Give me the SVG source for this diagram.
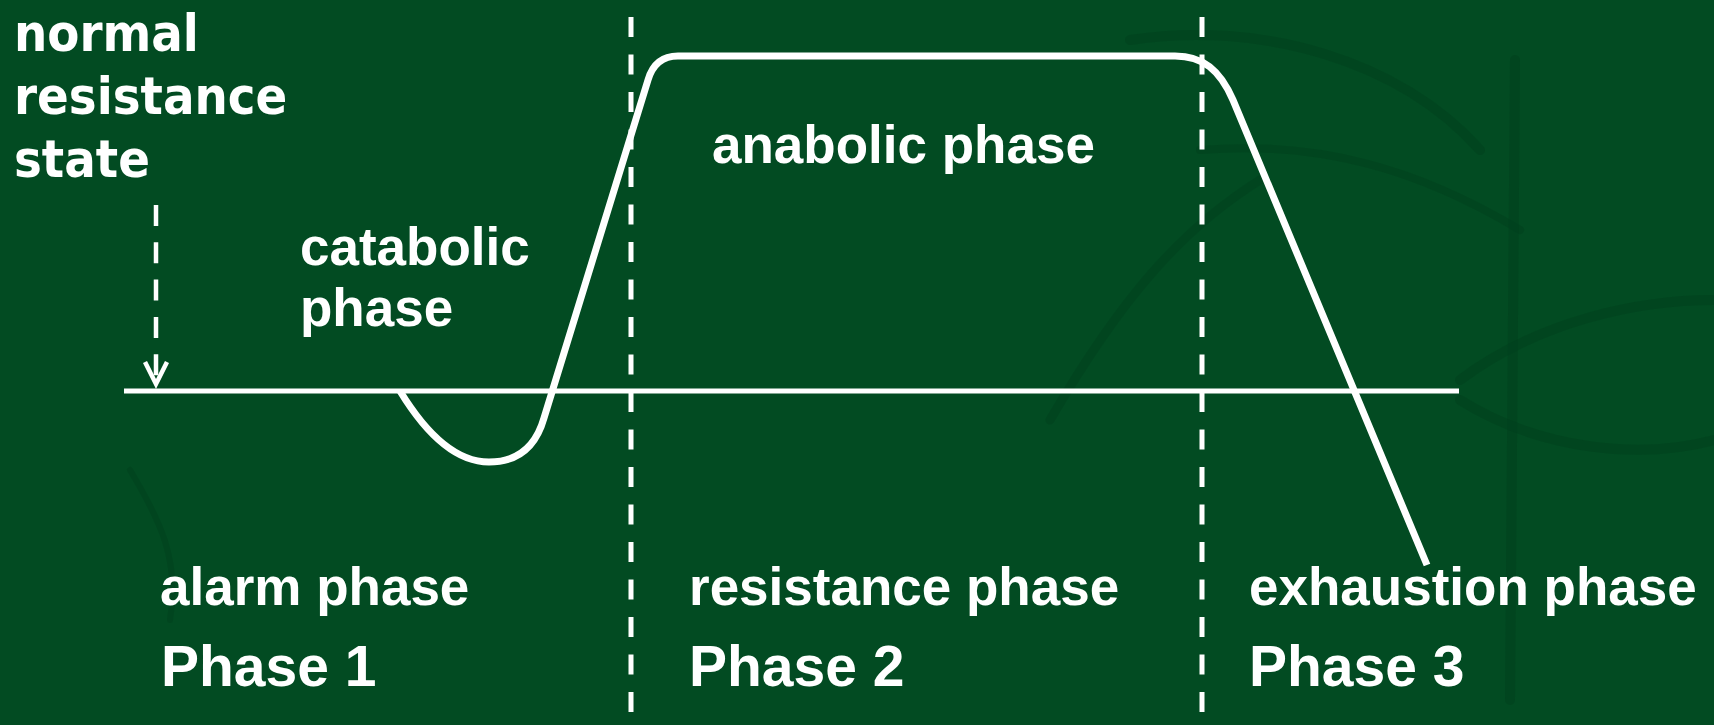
<svg xmlns="http://www.w3.org/2000/svg" width="1714" height="725" viewBox="0 0 1714 725">
  <style>
    .bg { fill: #024b22; }
    .leaf { fill: none; stroke: #013f1c; stroke-linecap: round; opacity: 0.45; }
    .label { font-family: "Liberation Sans", Arial, sans-serif; font-weight: bold; font-size: 53px; fill: #ffffff; }
    .phase { font-family: "Liberation Sans", Arial, sans-serif; font-weight: bold; font-size: 57px; fill: #ffffff; }
    .state { font-family: "DejaVu Sans Condensed", "DejaVu Sans", sans-serif; font-stretch: condensed; font-weight: bold; font-size: 52px; fill: #ffffff; }
    .divider { fill: none; stroke: #ffffff; stroke-width: 5; stroke-dasharray: 20 17.5; }
    .axis { fill: none; stroke: #ffffff; stroke-width: 5; }
    .curve { fill: none; stroke: #ffffff; stroke-width: 7; stroke-linejoin: round; }
    .pointer { fill: none; stroke: #ffffff; stroke-width: 4.5; }
  </style>

  <rect class="bg" x="0" y="0" width="1714" height="725"/>

  <!-- faint botanical texture -->
  <g id="texture">
    <path class="leaf" stroke-width="10" d="M1130,40 C1260,20 1400,60 1480,150"/>
    <path class="leaf" stroke-width="8" d="M1200,150 C1320,140 1420,170 1520,230"/>
    <path class="leaf" stroke-width="10" d="M1515,60 L1510,700"/>
    <path class="leaf" stroke-width="10" d="M1460,380 C1540,320 1640,300 1714,300"/>
    <path class="leaf" stroke-width="10" d="M1460,400 C1540,450 1640,460 1714,440"/>
    <path class="leaf" stroke-width="9" d="M1050,420 C1120,300 1180,230 1260,180"/>
    <path class="leaf" stroke-width="6" d="M130,470 C160,520 180,560 170,620"/>
  </g>

  <!-- connectors: phase dividers, baseline, response curve -->
  <g id="connectors">
    <line class="divider" x1="631" y1="17" x2="631" y2="725"/>
    <line class="divider" x1="1202" y1="17" x2="1202" y2="725"/>
    <line class="axis" x1="124" y1="391" x2="1459" y2="391"/>
    <path class="curve" d="M400,391 C425,432 455,462 489,462 C518,462 536,446 544,418 L648,80 Q655,56 678,56 L1175,56 C1203,56 1220,70 1233,100 L1427,565"/>
    <line class="pointer" x1="156" y1="205" x2="156" y2="384" stroke-dasharray="21 16.3"/>
    <path class="pointer" d="M145,362 L156,384 L167,362"/>
  </g>

  <g id="normal-state">
    <text class="state" x="14" y="51">normal</text>
    <text class="state" x="14" y="114">resistance</text>
    <text class="state" x="14" y="177">state</text>
  </g>

  <g id="catabolic">
    <text class="label" x="300" y="265">catabolic</text>
    <text class="label" x="300" y="326">phase</text>
  </g>

  <g id="anabolic">
    <text class="label" x="712" y="163">anabolic phase</text>
  </g>

  <g id="phase-1">
    <text class="label" x="160" y="605">alarm phase</text>
    <text class="phase" x="161" y="686">Phase 1</text>
  </g>

  <g id="phase-2">
    <text class="label" x="689" y="605">resistance phase</text>
    <text class="phase" x="689" y="686">Phase 2</text>
  </g>

  <g id="phase-3">
    <text class="label" x="1249" y="605">exhaustion phase</text>
    <text class="phase" x="1249" y="686">Phase 3</text>
  </g>
</svg>
